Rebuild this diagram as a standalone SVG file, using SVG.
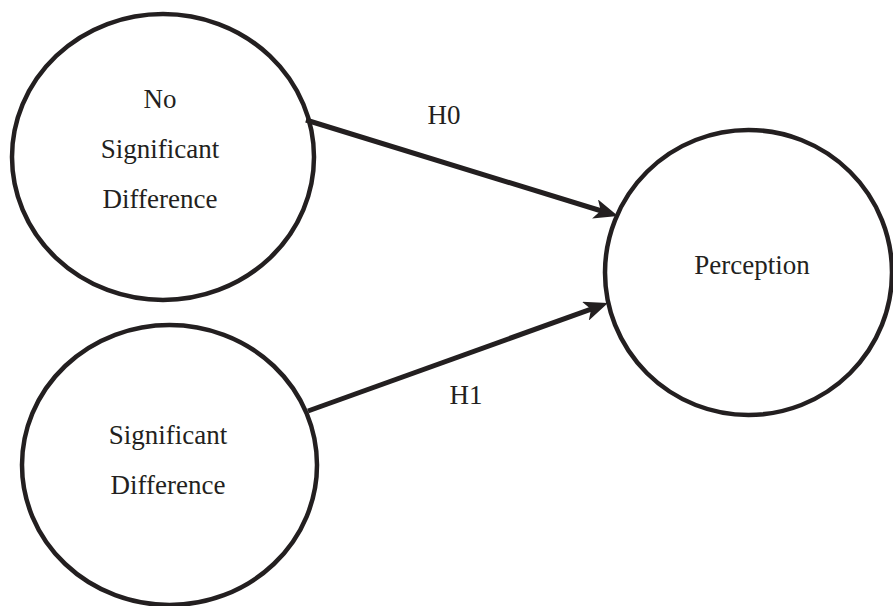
<svg xmlns="http://www.w3.org/2000/svg" width="893" height="606" viewBox="0 0 893 606">
<style>
.node ellipse{fill:#fff;stroke:#231f20;stroke-width:4.5}
.lbl{font-family:'Times New Roman','Liberation Serif',Tinos,'Noto Serif','DejaVu Serif',FreeSerif,Times,serif;font-size:27px;fill:#231f20;text-anchor:middle}
.edge{stroke:#231f20;stroke-width:5;fill:none;marker-end:url(#arr)}
</style>
<defs>
<marker id="arr" viewBox="0 0 24 20" refX="12" refY="10" markerWidth="24" markerHeight="20" markerUnits="userSpaceOnUse" orient="auto">
<path d="M0,0 L24,10 L0,20 L6,10 z" fill="#231f20"/>
</marker>
</defs>
<rect width="893" height="606" fill="#fff"/>
<g id="node-nsd" class="node">
<ellipse cx="163" cy="157" rx="151" ry="143"/>
<text class="lbl" x="160" y="108">No</text>
<text class="lbl" x="160" y="158">Significant</text>
<text class="lbl" x="160" y="208">Difference</text>
</g>
<g id="node-sd" class="node">
<ellipse cx="169.5" cy="465" rx="147.5" ry="140"/>
<text class="lbl" x="168" y="444">Significant</text>
<text class="lbl" x="168" y="494">Difference</text>
</g>
<g id="node-perception" class="node">
<ellipse cx="748.5" cy="272.5" rx="143.5" ry="142.5"/>
<text class="lbl" x="752" y="274">Perception</text>
</g>
<g id="connectors">
<line class="edge" x1="306" y1="120" x2="606.5" y2="212.5"/>
<line class="edge" x1="308" y1="411" x2="596.7" y2="307.1"/>
<text class="lbl" x="444" y="124">H0</text>
<text class="lbl" x="466" y="404">H1</text>
</g>
</svg>
